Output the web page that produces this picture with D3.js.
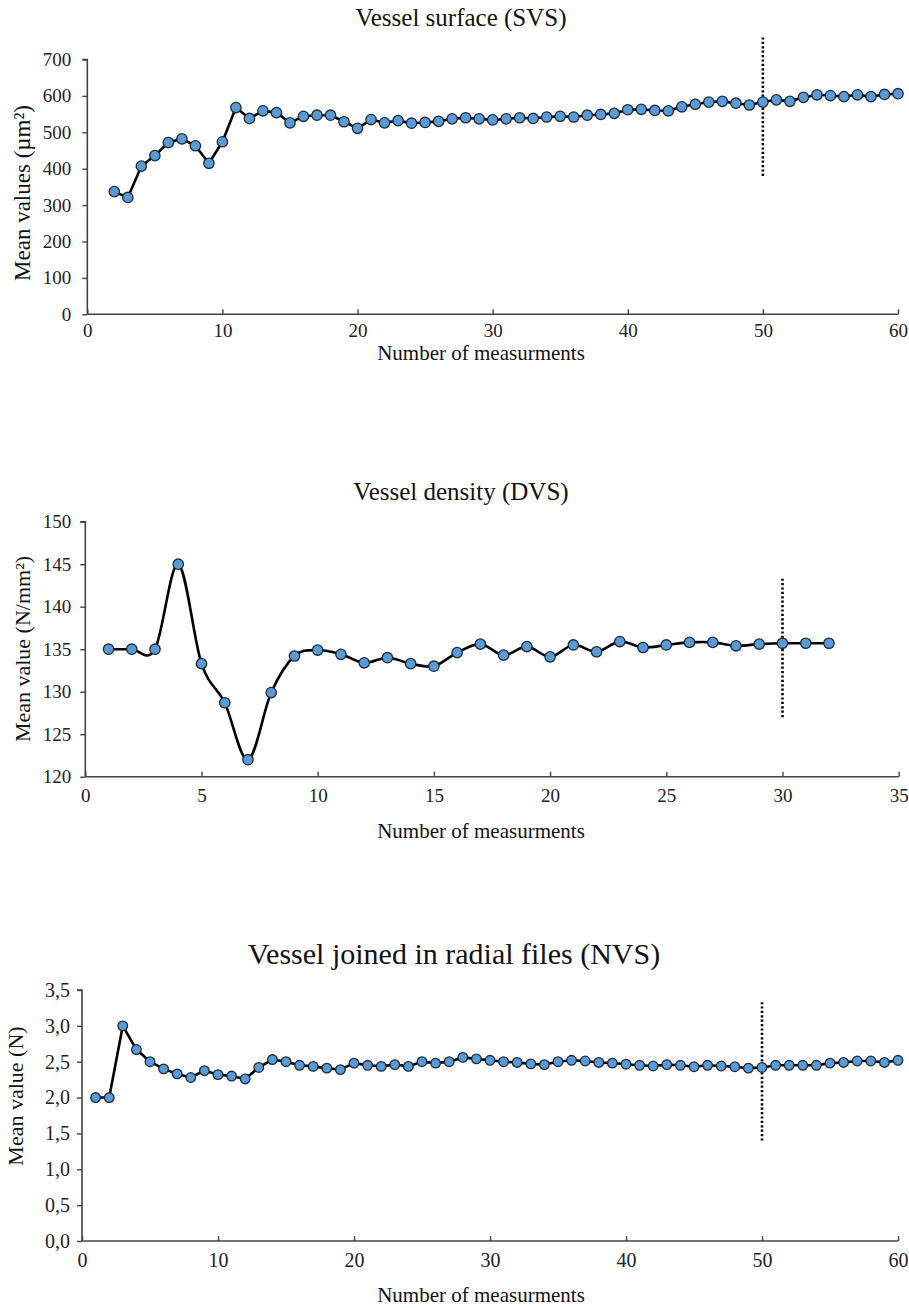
<!DOCTYPE html>
<html><head><meta charset="utf-8">
<script src="https://cdn.jsdelivr.net/npm/d3@7"></script>
<style>
body{margin:0;background:#fff;}
svg{display:block;font-family:"Liberation Serif","Times New Roman",serif;}
</style></head>
<body><svg id="c" width="909" height="1308"></svg>
<script>
// ---------- DATA ----------
const svsX = [2,3,4,5,6,7,8,9,10,11,12,13,14,15,16,17,18,19,20,21,22,23,24,25,26,27,28,29,30,31,32,33,34,35,36,37,38,39,40,41,42,43,44,45,46,47,48,49,50,51,52,53,54,55,56,57,58,59,60];
const svsValues = [337,321,407,436,472,482,463,415,474,568,538,559,554,526,544,547,547,529,511,535,526,532,525,527,530,537,540,537,534,537,540,538,542,544,542,547,549,552,562,563,560,559,570,577,583,585,580,575,583,589,585,596,603,601,598,603,598,604,606];
const svsXTicks = [0,10,20,30,40,50,60];
const svsYTicks = [0,100,200,300,400,500,600,700];
const svsMarker = {x:50, y0:380, y1:762};

const dvsX = [1,2,3,4,5,6,7,8,9,10,11,12,13,14,15,16,17,18,19,20,21,22,23,24,25,26,27,28,29,30,31,32];
const dvsValues = [135.0,135.0,135.0,145.0,133.3,128.7,122.0,129.9,134.2,134.9,134.4,133.4,134.0,133.3,133.0,134.6,135.6,134.3,135.3,134.1,135.5,134.7,135.9,135.2,135.5,135.8,135.8,135.4,135.6,135.7,135.7,135.7];
const dvsXTicks = [0,5,10,15,20,25,30,35];
const dvsYTicks = [120,125,130,135,140,145,150];
const dvsMarker = {x:30, y0:127.0, y1:143.3};

const nvsX = [1,2,3,4,5,6,7,8,9,10,11,12,13,14,15,16,17,18,19,20,21,22,23,24,25,26,27,28,29,30,31,32,33,34,35,36,37,38,39,40,41,42,43,44,45,46,47,48,49,50,51,52,53,54,55,56,57,58,59,60];
const nvsValues = [2.00,2.00,3.00,2.67,2.50,2.40,2.33,2.28,2.375,2.32,2.30,2.26,2.42,2.53,2.50,2.45,2.435,2.41,2.39,2.48,2.45,2.435,2.46,2.435,2.50,2.48,2.50,2.56,2.54,2.52,2.50,2.49,2.47,2.46,2.50,2.52,2.51,2.49,2.48,2.465,2.45,2.44,2.46,2.45,2.43,2.45,2.44,2.43,2.41,2.42,2.45,2.45,2.45,2.45,2.48,2.49,2.51,2.51,2.49,2.52];
const nvsXTicks = [0,10,20,30,40,50,60];
const nvsYTicks = [0,0.5,1,1.5,2,2.5,3,3.5];
const nvsMarker = {x:50, y0:1.4, y1:3.33};

const titles = ["Vessel surface (SVS)","Vessel density (DVS)","Vessel joined in radial files (NVS)"];
const yTitles = ["Mean values (µm²)","Mean value (N/mm²)","Mean value (N)"];
const xTitle = "Number of measurments";

// ---------- DRAW ----------
const svg = d3.select("#c");
const commaFmt = v => d3.format(".1f")(v).replace(".", ",");

function chart(o){
  const g = svg.append("g");
  const x = d3.scaleLinear().domain(o.xDomain).range([o.left, o.right]);
  const y = d3.scaleLinear().domain(o.yDomain).range([o.bottom, o.top]);

  const ya = d3.axisLeft(y).tickValues(o.yTicks).tickSize(5).tickPadding(o.yPad).tickFormat(o.yFmt);
  const yg = g.append("g").attr("transform",`translate(${o.left},0)`).call(ya);
  yg.select(".domain").attr("d",`M${-5},${o.top}H0V${o.bottom}`);
  const xa = d3.axisBottom(x).tickValues(o.xTicks).tickSize(-5).tickPadding(o.xPad).tickFormat(d3.format("d"));
  const xg = g.append("g").attr("transform",`translate(0,${o.bottom})`).call(xa);
  xg.select(".domain").attr("d",`M${o.left},0H${o.right}`);
  [yg,xg].forEach(a=>{
    a.selectAll(".domain").attr("stroke","#444").attr("stroke-width",1.6).attr("fill","none");
    a.selectAll(".tick line").attr("stroke","#444").attr("stroke-width",1.4);
    a.selectAll("text").attr("fill","#222").style("font-size",o.tickFont+"px").style("font-family","Liberation Serif, serif");
  });
  xg.selectAll(".tick text").attr("dy","0.71em").attr("y",o.xPad);

  g.append("text").attr("x",o.titleX).attr("y",o.titleY).attr("text-anchor","middle")
    .style("font-size",o.titleFont+"px").attr("fill","#111").text(o.title);
  g.append("text").attr("x",o.xTitleX).attr("y",o.xTitleY).attr("text-anchor","middle")
    .style("font-size",o.xTitleFont+"px").attr("fill","#111").text(xTitle);
  g.append("text").attr("transform",`translate(${o.yTitleX},${o.yTitleCY}) rotate(-90)`).attr("text-anchor","middle")
    .attr("dy","0.35em").style("font-size",o.yTitleFont+"px").attr("fill","#111").text(o.yTitle);

  const pts = o.xs.map((d,i)=>[d,o.vals[i]]);
  g.append("path").datum(pts).attr("fill","none").attr("stroke","#000").attr("stroke-width",2.6)
    .attr("stroke-linejoin","round")
    .attr("d", d3.line().x(d=>x(d[0])).y(d=>y(d[1])).curve(o.curve));
  g.append("line").attr("x1",x(o.marker.x)).attr("x2",x(o.marker.x))
    .attr("y1",y(o.marker.y0)).attr("y2",y(o.marker.y1))
    .attr("stroke","#000").attr("stroke-width",2.6).attr("stroke-dasharray","2.2,2.2");
  g.append("g").selectAll("circle").data(pts).join("circle")
    .attr("cx",d=>x(d[0])).attr("cy",d=>y(d[1])).attr("r",o.r)
    .attr("fill","#5b9bd5").attr("stroke","#1a2a3a").attr("stroke-width",1.3);
}

chart({xs:svsX, vals:svsValues, xDomain:[0,60], yDomain:[0,700], xTicks:svsXTicks, yTicks:svsYTicks,
  left:87.3, right:898, top:59.5, bottom:314.3, yFmt:d3.format("d"), yPad:11, xPad:9, tickFont:19,
  title:titles[0], titleX:461, titleY:26, titleFont:25,
  xTitleX:481, xTitleY:360, xTitleFont:21, yTitle:yTitles[0], yTitleX:22, yTitleCY:193, yTitleFont:23,
  marker:svsMarker, curve:d3.curveLinear, r:5.2});

chart({xs:dvsX, vals:dvsValues, xDomain:[0,35], yDomain:[120,150], xTicks:dvsXTicks, yTicks:dvsYTicks,
  left:85.3, right:898.7, top:521.7, bottom:776.7, yFmt:d3.format("d"), yPad:9, xPad:12, tickFont:19,
  title:titles[1], titleX:461, titleY:500, titleFont:25,
  xTitleX:481, xTitleY:838, xTitleFont:21, yTitle:yTitles[1], yTitleX:22, yTitleCY:649, yTitleFont:22,
  marker:dvsMarker, curve:d3.curveCardinal.tension(0), r:5.2});

chart({xs:nvsX, vals:nvsValues, xDomain:[0,60], yDomain:[0,3.5], xTicks:nvsXTicks, yTicks:nvsYTicks,
  left:82, right:898, top:990, bottom:1241, yFmt:commaFmt, yPad:7, xPad:12, tickFont:20,
  title:titles[2], titleX:454, titleY:964, titleFont:30,
  xTitleX:481, xTitleY:1302, xTitleFont:21, yTitle:yTitles[2], yTitleX:15, yTitleCY:1096, yTitleFont:22,
  marker:nvsMarker, curve:d3.curveLinear, r:4.8});
</script></body></html>
